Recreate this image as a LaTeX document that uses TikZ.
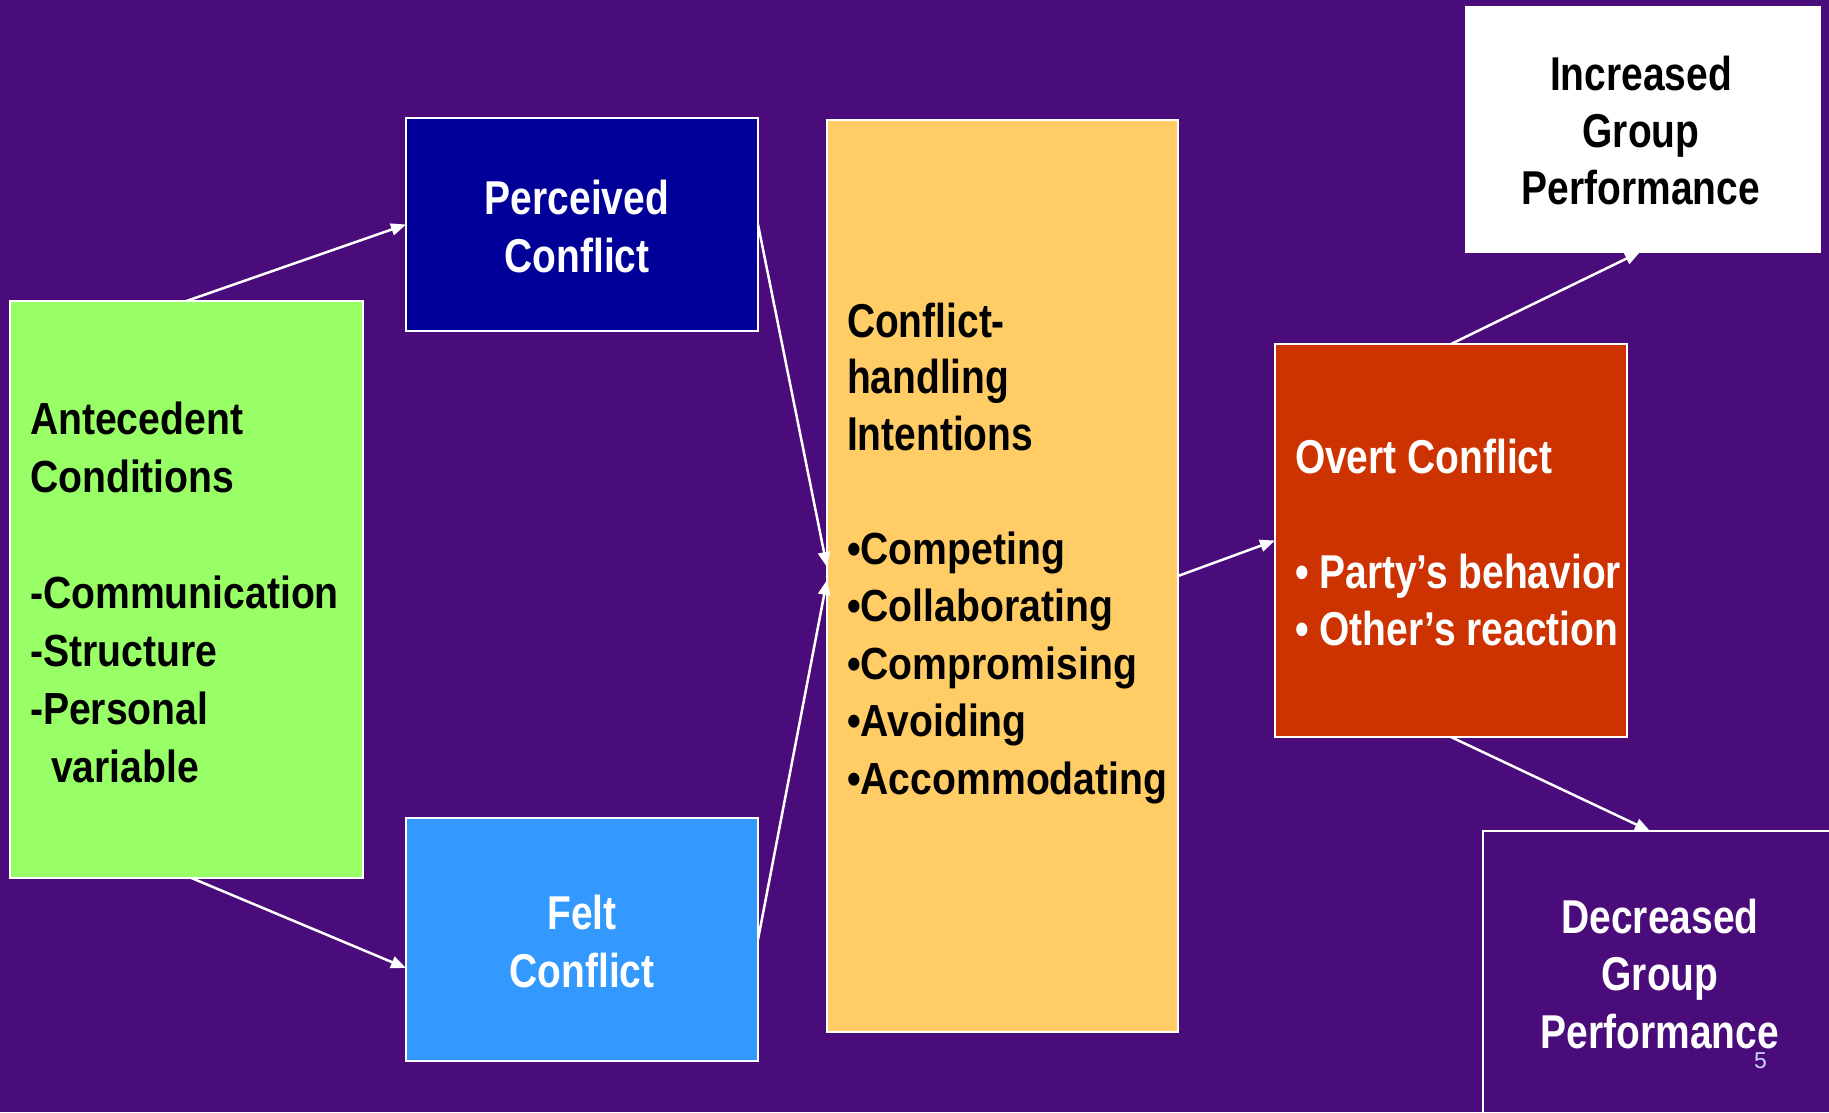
\documentclass[tikz,border=0pt]{standalone}
\usepackage{fontspec}
\setmainfont{Liberation Sans}
\newfontfamily\nb{Liberation Sans}[FakeStretch=0.82]
\newfontfamily\ab{Liberation Sans}[FakeStretch=0.87]
\usetikzlibrary{arrows.meta}
\newcommand\linesL[2]{\vtop{\baselineskip=#1\lineskiplimit=-100pt\lineskip=0pt\halign{##\hfil\cr#2\crcr}}}
\newcommand\linesC[2]{\vtop{\baselineskip=#1\lineskiplimit=-100pt\lineskip=0pt\halign{\hfil##\hfil\cr#2\crcr}}}
\definecolor{bgpurple}{RGB}{74,12,122}
\definecolor{cgreen}{RGB}{153,255,102}
\definecolor{cnavy}{RGB}{0,0,153}
\definecolor{cblue}{RGB}{51,153,255}
\definecolor{cyellow}{RGB}{255,204,102}
\definecolor{cred}{RGB}{204,51,0}
\definecolor{cnum}{RGB}{200,210,255}
\tikzset{
  box/.style={draw=white, line width=2pt, inner sep=0pt, outer sep=0pt},
  lbl/.style={inner sep=0pt, outer sep=0pt},
  narrowtxt/.style={font=\nb\bfseries\fontsize{47.5}{57}\selectfont},
  boldtxt/.style={font=\ab\bfseries\fontsize{45}{57.5}\selectfont},
  conn/.style={draw=white, line width=2.5pt, -{Triangle[length=15pt,width=12pt]}}
}
\begin{document}
\begin{tikzpicture}[x=1pt,y=-1pt]
\useasboundingbox (0,0) rectangle (1829,1112);
\fill[bgpurple] (0,0) rectangle (1829,1112);

% boxes
\node[box, fill=cgreen, minimum width=353pt, minimum height=577pt] (green) at (186.5,589.5) {};
\node[box, fill=cnavy, minimum width=352pt, minimum height=213pt] (perceived) at (582,224.5) {};
\node[box, fill=cblue, minimum width=352pt, minimum height=243pt] (felt) at (582,939.5) {};
\node[box, fill=cyellow, minimum width=351pt, minimum height=912pt] (yellow) at (1002.5,576) {};
\node[box, fill=cred, minimum width=352pt, minimum height=393pt] (overt) at (1451,540.5) {};
\node[box, fill=white, minimum width=354pt, minimum height=245pt] (increased) at (1643,129.5) {};
\node[box, minimum width=352pt, minimum height=287pt] (decreased) at (1659,974.5) {};

% texts
\node[lbl, boldtxt, anchor=base west, text=black] (tgreen) at (30,434)
  {\linesL{58pt}{Antecedent\cr Conditions\cr\cr -Communication\cr -Structure\cr -Personal\cr \hspace*{21pt}variable}};
\node[lbl, narrowtxt, anchor=base, text=white] (tperceived) at (577,214)
  {\linesC{58pt}{Perceived\cr Conflict}};
\node[lbl, narrowtxt, anchor=base, text=white] (tfelt) at (582,929)
  {\linesC{58pt}{Felt\cr Conflict}};
\node[lbl, narrowtxt, anchor=base west, text=black] (tyellowhead) at (847,337)
  {\linesL{56.5pt}{Conflict-\cr handling\cr Intentions}};
\node[lbl, boldtxt, anchor=base west, text=black] (tyellowlist) at (847,564)
  {\linesL{57.5pt}{•Competing\cr •Collaborating\cr •Compromising\cr •Avoiding\cr •Accommodating}};
\node[lbl, narrowtxt, anchor=base west, text=white] (tovert) at (1295,473)
  {Overt Conflict};
\node[lbl, narrowtxt, anchor=base west, text=white] (tovertlist) at (1295,588)
  {\linesL{57pt}{• Party’s behavior\cr • Other’s reaction}};
\node[lbl, narrowtxt, anchor=base, text=black] (tincreased) at (1641,90)
  {\linesC{57pt}{Increased\cr Group\cr Performance}};
\node[lbl, narrowtxt, anchor=base, text=white] (tdecreased) at (1660,933)
  {\linesC{57.5pt}{Decreased\cr Group\cr Performance}};
\node[lbl, anchor=base west, text=cnum, font=\fontsize{23}{26}\selectfont] (pagenum) at (1754,1068) {5};

% connectors
\draw[conn] (green.north) -- (perceived.west);
\draw[conn] ([xshift=5pt]green.south) -- ([yshift=-28.5pt]felt.west);
\draw[conn] (perceived.east) -- ([yshift=9pt]yellow.west);
\draw[conn] (felt.east) -- ([yshift=-4pt]yellow.west);
\draw[conn] (yellow.east) -- (overt.west);
\draw[conn] (overt.north) -- ([xshift=-3pt]increased.south);
\draw[conn] (overt.south) -- ([xshift=-9pt]decreased.north);
\end{tikzpicture}
\end{document}
